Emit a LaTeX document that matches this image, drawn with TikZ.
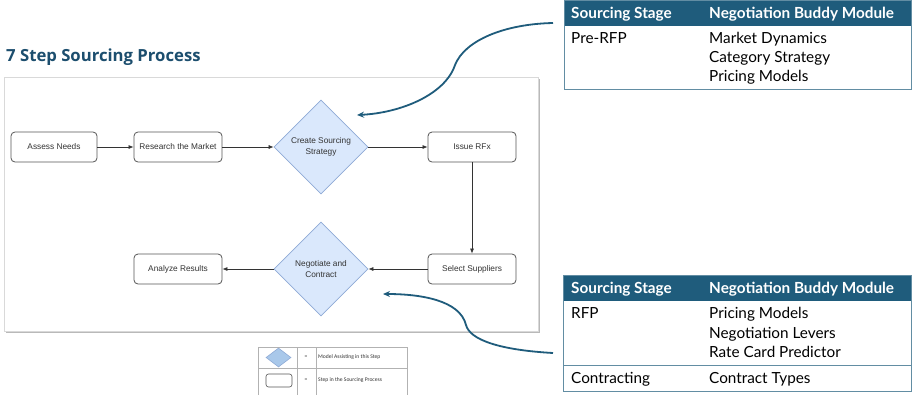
\documentclass[tikz,border=0pt]{standalone}
\usepackage{fontspec}
\setmainfont{Liberation Sans}
\newfontfamily\lato{Lato}
\newfontfamily\osans{Open Sans}
\newfontfamily\carl{Carlito}
\usetikzlibrary{shapes.geometric,arrows.meta}
\definecolor{teal1}{HTML}{1F5C7C}
\definecolor{titlec}{HTML}{1C4E6E}
\definecolor{dfill}{HTML}{DAE8FC}
\definecolor{dline}{HTML}{8FAAD6}
\definecolor{lfill}{HTML}{A9C8EA}
\definecolor{boxline}{HTML}{555555}
\definecolor{txt}{HTML}{333333}
\tikzset{
  stepbox/.style={draw=boxline, line width=0.8pt, rounded corners=4pt, fill=white,
    minimum width=88pt, minimum height=30pt, inner sep=0pt,
    font=\fontsize{8.3}{10}\selectfont, text=txt},
  modeldia/.style={diamond, aspect=1, draw=dline, line width=0.7pt, fill=dfill,
    minimum width=94pt, minimum height=94pt, inner sep=0pt, align=center,
    font=\fontsize{8.3}{10.5}\selectfont, text=txt},
  flow/.style={draw=txt, line width=0.7pt, -{Latex[length=5pt,width=4pt]}},
  callout/.style={draw=teal1, line width=1.8pt, -{Stealth[length=7pt,width=6pt]}},
  thead/.style={anchor=base west, font=\lato\bfseries\fontsize{15.3}{17}\selectfont, text=white, inner sep=0pt},
  tcell/.style={anchor=base west, font=\lato\fontsize{15.3}{17}\selectfont, text=black, inner sep=0pt},
  legtxt/.style={anchor=west, font=\carl\fontsize{5.6}{6}\selectfont, text=txt, inner sep=0pt}
}
\begin{document}
\begin{tikzpicture}[x=1pt,y=-1pt]
\useasboundingbox (0,0) rectangle (912,394);
\fill[white] (0,0) rectangle (912,394);

% title
\node[anchor=base west, inner sep=0pt, font=\osans\bfseries\fontsize{16.7}{19}\selectfont, text=titlec] (title) at (6,61) {7 Step Sourcing Process};

% panel
\fill[gray!55] (5.5,78.5) rectangle (539.5,332.5);
\draw[gray!30, fill=white, line width=0.6pt] (4,77) rectangle (538,331);

% flow nodes
\node[stepbox, minimum width=86pt] (assess) at (54,147) {Assess Needs};
\node[stepbox] (research) at (178,147) {Research the Market};
\node[modeldia] (create) at (321,147) {Create Sourcing\\Strategy};
\node[stepbox] (issue) at (472,147) {Issue RFx};
\node[stepbox] (select) at (472,269) {Select Suppliers};
\node[modeldia] (negot) at (321,269) {Negotiate and\\Contract};
\node[stepbox] (analyze) at (178,269) {Analyze Results};

\draw[flow] (assess) -- (research);
\draw[flow] (research) -- (create);
\draw[flow] (create) -- (issue);
\draw[flow] (issue) -- (select);
\draw[flow] (select) -- (negot);
\draw[flow] (negot) -- (analyze);

% legend
\draw[gray!60, line width=0.6pt] (258,347) rectangle (407,396);
\draw[gray!60, line width=0.6pt] (258,368) -- (407,368);
\draw[gray!60, line width=0.6pt] (297,347) -- (297,396);
\draw[gray!60, line width=0.6pt] (316,347) -- (316,396);
\node[diamond, aspect=1.3, draw=dline, fill=lfill, line width=0.6pt, minimum width=25pt, minimum height=19pt, inner sep=0pt] (legdia) at (278.5,357.5) {};
\node[draw=boxline, line width=0.6pt, rounded corners=2.5pt, minimum width=26pt, minimum height=13pt, inner sep=0pt] (legbox) at (279,380.5) {};
\node[legtxt, anchor=center] (eq1) at (306,357.5) {=};
\node[legtxt, anchor=center] (eq2) at (306,380.5) {=};
\node[legtxt] (lt1) at (318,357.5) {Model Assisting in this Step};
\node[legtxt] (lt2) at (318,380.5) {Step in the Sourcing Process};

% top table
\fill[teal1] (564,0) rectangle (911,26);
\draw[teal1!70, line width=1pt] (564,0) rectangle (911,89);
\node[thead] (h1) at (571,18.5) {Sourcing Stage};
\node[thead] (h2) at (709,18.5) {Negotiation Buddy Module};
\node[tcell] (pre) at (571,43.5) {Pre-RFP};
\node[tcell] (m1) at (709,43.5) {Market Dynamics};
\node[tcell] (m2) at (709,62.5) {Category Strategy};
\node[tcell] (m3) at (709,81.5) {Pricing Models};

% bottom table
\fill[teal1] (563,275) rectangle (911,301);
\draw[teal1!70, line width=1pt] (563,275) rectangle (911,391);
\draw[teal1!70, line width=1pt] (563,365) -- (911,365);
\node[thead] (h3) at (571,293.5) {Sourcing Stage};
\node[thead] (h4) at (709,293.5) {Negotiation Buddy Module};
\node[tcell] (rfp) at (571,318.5) {RFP};
\node[tcell] (r1) at (709,318.5) {Pricing Models};
\node[tcell] (r2) at (709,338) {Negotiation Levers};
\node[tcell] (r3) at (709,357.5) {Rate Card Predictor};
\node[tcell] (con) at (571,383.5) {Contracting};
\node[tcell] (ct) at (709,383.5) {Contract Types};

% callout curves
\coordinate (c1s) at (553,23);
\coordinate (c1m) at (455,65);
\coordinate (c1e) at (357,115);
\draw[callout] (c1s) .. controls (505,24) and (465,40) .. (c1m) .. controls (445,95) and (400,113) .. (c1e);
\coordinate (c2s) at (553,353);
\coordinate (c2m) at (466,325);
\coordinate (c2e) at (383,294);
\draw[callout] (c2s) .. controls (500,350) and (470,340) .. (c2m) .. controls (460,300) and (420,294) .. (c2e);
\end{tikzpicture}
\end{document}
